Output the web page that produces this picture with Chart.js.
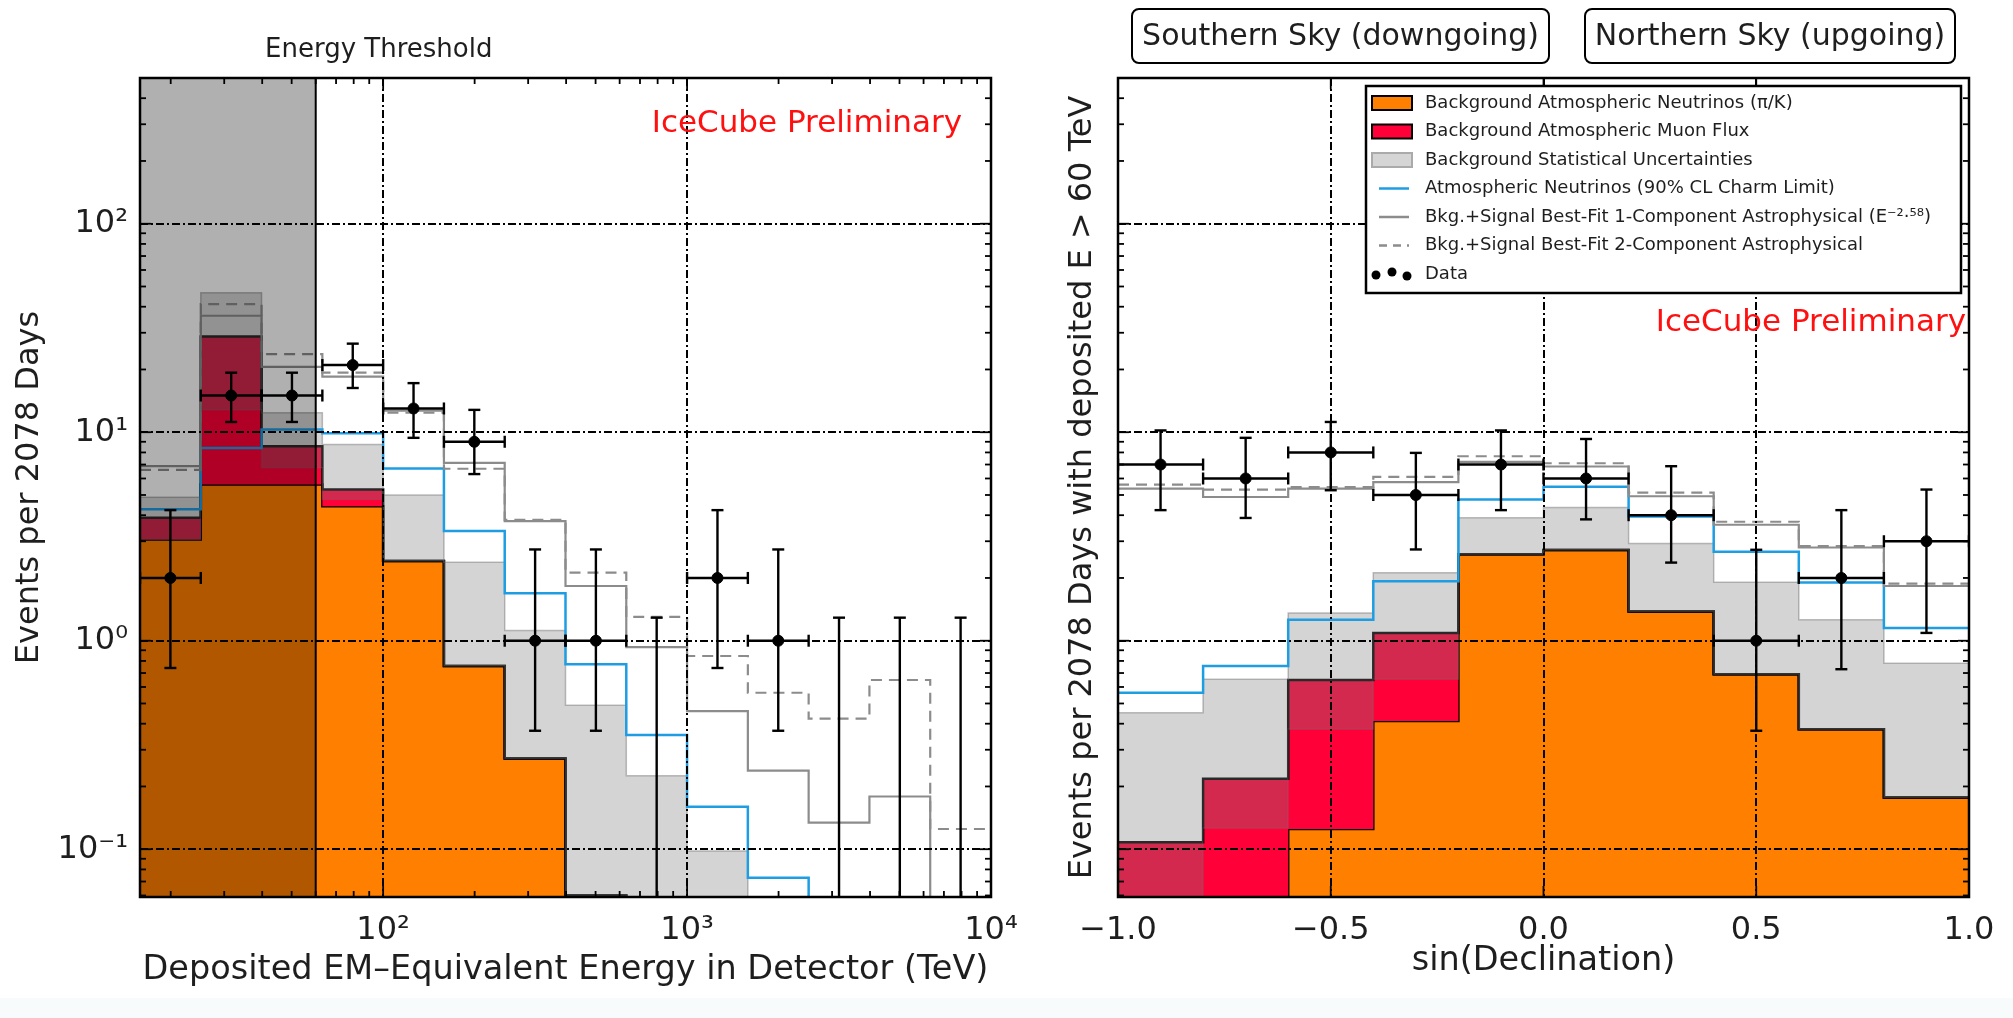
<!DOCTYPE html>
<html>
<head>
<meta charset="utf-8">
<title>IceCube energy and declination distributions</title>
<script src="https://cdn.jsdelivr.net/npm/chart.js@4.4.1/dist/chart.umd.min.js"></script>
<style>
  html, body { margin: 0; padding: 0; background: #fff; }
  #page { position: relative; width: 2013px; height: 1018px; overflow: hidden; background: #fff; }
  #strip { position: absolute; left: 0; top: 998px; width: 2013px; height: 20px; background: #f7fbfc; }
  canvas { position: absolute; top: 0; }
  #energyChart { left: 0; }
  #declChart { left: 1000px; }
</style>
</head>
<body>
<div id="page">
  <div id="strip"></div>
  <canvas id="energyChart" width="1040" height="1018"></canvas>
  <canvas id="declChart" width="1013" height="1018"></canvas>
</div>
<script>
// ---- left panel: bins in log10(E / TeV) ----
// 0.01 means "below the plotted range"
var energyEdgesLog = [1.2, 1.4, 1.6, 1.8, 2.0, 2.2, 2.4, 2.6, 2.8, 3.0, 3.2, 3.4, 3.6, 3.8, 4.0];
var energyThreshold = 60;
var eConv     = [3.06, 5.61, 5.61, 4.42, 2.41, 0.757, 0.272, 0.06, 0.01, 0.01, 0.01, 0.01, 0.01, 0.01];
var eBkgTotal = [3.89, 28.8, 8.57, 5.31, 2.41, 0.757, 0.272, 0.06, 0.01, 0.01, 0.01, 0.01, 0.01, 0.01];
var eBandLo   = [3.06, 12.8, 6.75, 4.76, 2.41, 0.757, 0.272, 0.06, 0.01, 0.01, 0.01, 0.01, 0.01, 0.01];
var eBandHi   = [4.88, 46.6, 12.4, 8.73, 5.0, 2.38, 1.12, 0.491, 0.225, 0.098, 0.01, 0.01, 0.01, 0.01];
var eCharm    = [4.27, 8.41, 10.3, 9.9, 6.7, 3.36, 1.69, 0.771, 0.353, 0.16, 0.073, 0.01, 0.01, 0.01];
var eFit1     = [6.87, 36.2, 20.6, 18.5, 12.7, 7.13, 3.75, 1.83, 0.932, 0.46, 0.238, 0.134, 0.179, 0.03];
var eFit2     = [6.6, 41.2, 23.7, 19.3, 12.4, 6.68, 3.8, 2.12, 1.30, 0.845, 0.563, 0.423, 0.648, 0.125];
var eData     = [2, 15, 15, 21, 13, 9, 1, 1, 0, 2, 1, 0, 0, 0];
var eDataLo   = [0.74, 11.2, 11.2, 16.3, 9.4, 6.3, 0.37, 0.37, 0, 0.74, 0.37, 0, 0, 0];
var eDataHi   = [4.23, 19.3, 19.3, 26.6, 17.2, 12.8, 2.74, 2.74, 1.29, 4.23, 2.74, 1.29, 1.29, 1.29];

// ---- right panel: bins in sin(declination) ----
var declEdges = [-1.0, -0.8, -0.6, -0.4, -0.2, 0.0, 0.2, 0.4, 0.6, 0.8, 1.0];
var dConv     = [0.01, 0.01, 0.125, 0.412, 2.6, 2.72, 1.38, 0.69, 0.376, 0.177];
var dBkgTotal = [0.108, 0.218, 0.648, 1.09, 2.6, 2.72, 1.38, 0.69, 0.376, 0.177];
var dBandLo   = [0.01, 0.126, 0.376, 0.653, 2.6, 2.72, 1.38, 0.69, 0.376, 0.177];
var dBandHi   = [0.452, 0.653, 1.36, 2.12, 3.89, 4.35, 2.93, 1.91, 1.26, 0.78];
var dCharm    = [0.563, 0.757, 1.26, 1.93, 4.76, 5.47, 3.94, 2.67, 1.90, 1.15];
var dFit1     = [5.36, 4.89, 5.36, 5.76, 7.21, 6.85, 4.93, 3.6, 2.80, 1.83];
var dFit2     = [5.61, 5.31, 5.45, 6.11, 7.67, 7.1, 5.13, 3.72, 2.84, 1.88];
var dData     = [7, 6, 8, 5, 7, 6, 4, 1, 2, 3];
var dDataLo   = [4.23, 3.88, 5.27, 2.74, 4.23, 3.82, 2.37, 0.37, 0.73, 1.09];
var dDataHi   = [10.2, 9.4, 11.2, 7.96, 10.2, 9.28, 6.87, 2.73, 4.23, 5.31];

// ---- axes and labels ----
var countMin = 0.059, countMax = 500;
var countTickVals = [0.1, 1, 10, 100];
var countTickText = ['10\u207B\u00B9', '10\u2070', '10\u00B9', '10\u00B2'];
var energyTickVals = [100, 1000, 10000];
var energyTickText = ['10\u00B2', '10\u00B3', '10\u2074'];
var declTickVals = [-1, -0.5, 0, 0.5, 1];
var declTickText = ['\u22121.0', '\u22120.5', '0.0', '0.5', '1.0'];
var legendLabels = [
  'Background Atmospheric Neutrinos (\u03C0/K)',
  'Background Atmospheric Muon Flux',
  'Background Statistical Uncertainties',
  'Atmospheric Neutrinos (90% CL Charm Limit)',
  'Bkg.+Signal Best-Fit 1-Component Astrophysical (E\u207B\u00B2\u00B7\u2075\u2078)',
  'Bkg.+Signal Best-Fit 2-Component Astrophysical',
  'Data'
];
var skyLabels = ['Southern Sky (downgoing)', 'Northern Sky (upgoing)'];

var FONT = "'DejaVu Sans', sans-serif";
var TEXT = '#1e1e1e';
var ORANGE = '#ff7f00', RED = '#ff0038', BAND = 'rgba(123,123,123,0.33)', BLUE = '#1f9de2', FIT = '#8c8c8c';

function pow10(l) { return Math.pow(10, l); }
var energyEdges = energyEdgesLog.map(pow10);
var energyCenters = energyEdgesLog.slice(1).map(function (l, i) { return pow10((l + energyEdgesLog[i]) / 2); });
var declCenters = declEdges.slice(1).map(function (e, i) { return (e + declEdges[i]) / 2; });

function stepPoints(edges, vals) {
  var pts = vals.map(function (v, i) { return {x: edges[i], y: v}; });
  pts.push({x: edges[edges.length - 1], y: vals[vals.length - 1]});
  return pts;
}

function histDatasets(edges, conv, total, lo, hi, charm, fit1, fit2, centers, counts) {
  function step(vals, extra) {
    var ds = {data: stepPoints(edges, vals), showLine: true, stepped: 'before', pointRadius: 0,
              pointHoverRadius: 0, fill: false, borderJoinStyle: 'miter'};
    for (var k in extra) ds[k] = extra[k];
    return ds;
  }
  return [
    step(conv,  {label: 'conv',   borderColor: '#000', borderWidth: 2.5, backgroundColor: ORANGE, fill: 'start', order: 7}),
    step(total, {label: 'muon',   borderColor: '#000', borderWidth: 2.5, backgroundColor: RED, fill: 0, order: 6}),
    step(lo,    {label: 'bandLo', borderColor: 'rgba(110,110,110,0.3)', borderWidth: 1.5, order: 5}),
    step(hi,    {label: 'bandHi', borderColor: 'rgba(110,110,110,0.45)', borderWidth: 1.5, backgroundColor: BAND, fill: 2, order: 4}),
    step(charm, {label: 'charm',  borderColor: BLUE, borderWidth: 2.5, order: 3}),
    step(fit1,  {label: 'fit1',   borderColor: FIT, borderWidth: 2.2, order: 2}),
    step(fit2,  {label: 'fit2',   borderColor: FIT, borderWidth: 2.2, borderDash: [11, 7], order: 1}),
    {label: 'data', order: 0, showLine: false, pointRadius: 5.5, pointBackgroundColor: '#000', pointBorderColor: '#000',
     data: centers.map(function (c, i) { return {x: c, y: counts[i] > 0 ? counts[i] : null}; })}
  ];
}

function logMinor(min, max) {
  var out = [];
  for (var e = Math.floor(Math.log10(min)); e <= Math.ceil(Math.log10(max)); e++) {
    for (var m = 2; m <= 9; m++) {
      var v = m * Math.pow(10, e);
      if (v > min && v < max) out.push(v);
    }
  }
  return out;
}

function countAxis(showLabels, title, titlePad, width) {
  return {
    type: 'logarithmic', position: 'left', min: countMin, max: countMax, bounds: 'data',
    grid: {display: false}, border: {display: false},
    afterBuildTicks: function (s) { s.ticks = countTickVals.map(function (v) { return {value: v}; }); },
    ticks: {display: showLabels, autoSkip: false, padding: 4, color: TEXT, font: {family: FONT, size: 32},
            callback: function (v, i) { return countTickText[i]; }},
    title: {display: true, text: title, color: TEXT, font: {family: FONT, size: 32}, padding: {top: titlePad, bottom: 0}},
    afterFit: function (s) { s.width = width; }
  };
}

function roundRect(ctx, x, y, w, h, r) {
  ctx.beginPath();
  ctx.moveTo(x + r, y);
  ctx.arcTo(x + w, y, x + w, y + h, r);
  ctx.arcTo(x + w, y + h, x, y + h, r);
  ctx.arcTo(x, y + h, x, y, r);
  ctx.arcTo(x, y, x + w, y, r);
  ctx.closePath();
}

function framePlugin(cfg) {
  return {
    id: 'frame',
    afterDatasetsDraw: function (chart) {
      var ctx = chart.ctx, a = chart.chartArea, xs = chart.scales.x, ys = chart.scales.y;
      function seg(x1, y1, x2, y2) { ctx.beginPath(); ctx.moveTo(x1, y1); ctx.lineTo(x2, y2); ctx.stroke(); }
      ctx.save();
      ctx.beginPath();
      ctx.rect(a.left, a.top, a.right - a.left, a.bottom - a.top);
      ctx.clip();
      ctx.strokeStyle = '#000';
      if (cfg.threshold) {
        var tx = xs.getPixelForValue(cfg.threshold);
        ctx.fillStyle = 'rgba(0,0,0,0.31)';
        ctx.fillRect(a.left, a.top, tx - a.left, a.bottom - a.top);
        ctx.lineWidth = 2;
        seg(tx, a.top, tx, a.bottom);
      }
      // dash-dot grid on top of the histograms
      ctx.lineWidth = 2;
      ctx.setLineDash([8, 3, 2, 3]);
      cfg.gridX.forEach(function (v) { var p = Math.round(xs.getPixelForValue(v)); seg(p, a.top, p, a.bottom); });
      countTickVals.forEach(function (v) { var p = Math.round(ys.getPixelForValue(v)); seg(a.left, p, a.right, p); });
      ctx.setLineDash([]);
      // data error bars
      ctx.lineWidth = 2.4;
      cfg.counts.forEach(function (n, i) {
        var xc = xs.getPixelForValue(cfg.centers[i]);
        var yHi = ys.getPixelForValue(cfg.hi[i]);
        var yLo = n > 0 ? ys.getPixelForValue(cfg.lo[i]) : a.bottom + 5;
        seg(xc, yLo, xc, yHi);
        seg(xc - 6, yHi, xc + 6, yHi);
        if (n > 0) {
          seg(xc - 6, yLo, xc + 6, yLo);
          var y = ys.getPixelForValue(n);
          var xl = xs.getPixelForValue(cfg.edges[i]), xr = xs.getPixelForValue(cfg.edges[i + 1]);
          seg(xl, y, xr, y);
          seg(xl, y - 6, xl, y + 6);
          seg(xr, y - 6, xr, y + 6);
        }
      });
      ctx.restore();

      // frame with inward ticks
      ctx.save();
      ctx.strokeStyle = '#000';
      ctx.lineWidth = 1.8;
      countTickVals.forEach(function (v) {
        var p = ys.getPixelForValue(v);
        seg(a.left, p, a.left + 11, p); seg(a.right, p, a.right - 11, p);
      });
      logMinor(countMin, countMax).forEach(function (v) {
        var p = ys.getPixelForValue(v);
        seg(a.left, p, a.left + 6, p); seg(a.right, p, a.right - 6, p);
      });
      cfg.xMajor.forEach(function (v) {
        var p = xs.getPixelForValue(v);
        seg(p, a.bottom, p, a.bottom - 11); seg(p, a.top, p, a.top + 11);
      });
      cfg.xMinor.forEach(function (v) {
        var p = xs.getPixelForValue(v);
        seg(p, a.bottom, p, a.bottom - 6); seg(p, a.top, p, a.top + 6);
      });
      ctx.lineWidth = 2.5;
      ctx.strokeRect(a.left, a.top, a.right - a.left, a.bottom - a.top);
      ctx.restore();

      ctx.save();
      cfg.decorate(ctx, a, xs, ys);
      ctx.restore();
    }
  };
}

Chart.defaults.font.family = FONT;

// ---------------- left: energy ----------------
new Chart(document.getElementById('energyChart').getContext('2d'), {
  type: 'scatter',
  data: {datasets: histDatasets(energyEdges, eConv, eBkgTotal, eBandLo, eBandHi, eCharm, eFit1, eFit2, energyCenters, eData)},
  options: {
    responsive: false, animation: false, devicePixelRatio: 1, events: [],
    layout: {padding: {top: 78, right: 49, bottom: 0, left: 0}},
    plugins: {legend: {display: false}, tooltip: {enabled: false}},
    scales: {
      x: {
        type: 'logarithmic', min: energyEdges[0], max: energyEdges[energyEdges.length - 1], bounds: 'data',
        grid: {display: false}, border: {display: false},
        afterBuildTicks: function (s) { s.ticks = energyTickVals.map(function (v) { return {value: v}; }); },
        ticks: {autoSkip: false, maxRotation: 0, padding: 6, color: TEXT, font: {family: FONT, size: 32},
                callback: function (v, i) { return energyTickText[i]; }},
        title: {display: true, text: 'Deposited EM\u2013Equivalent Energy in Detector (TeV)', color: TEXT,
                font: {family: FONT, size: 33.5}, padding: {top: 0, bottom: 28}},
        afterFit: function (s) { s.height = 121; }
      },
      y: countAxis(true, 'Events per 2078 Days', 10, 140)
    }
  },
  plugins: [framePlugin({
    threshold: energyThreshold, gridX: [100, 1000], xMajor: energyTickVals,
    xMinor: logMinor(energyEdges[0], energyEdges[energyEdges.length - 1]),
    counts: eData, lo: eDataLo, hi: eDataHi, centers: energyCenters, edges: energyEdges,
    decorate: function (ctx, a, xs, ys) {
      ctx.fillStyle = TEXT;
      ctx.font = '26px ' + FONT;
      ctx.textAlign = 'center';
      ctx.textBaseline = 'alphabetic';
      ctx.fillText('Energy Threshold', xs.getPixelForValue(energyThreshold) + 63, 57);
      ctx.fillStyle = '#ff1010';
      ctx.font = '31px ' + FONT;
      ctx.textAlign = 'right';
      ctx.fillText('IceCube Preliminary', a.right - 29, 132);
    }
  })]
});

// ---------------- right: declination ----------------
new Chart(document.getElementById('declChart').getContext('2d'), {
  type: 'scatter',
  data: {datasets: histDatasets(declEdges, dConv, dBkgTotal, dBandLo, dBandHi, dCharm, dFit1, dFit2, declCenters, dData)},
  options: {
    responsive: false, animation: false, devicePixelRatio: 1, events: [],
    layout: {padding: {top: 78, right: 44, bottom: 0, left: 0}},
    plugins: {legend: {display: false}, tooltip: {enabled: false}},
    scales: {
      x: {
        type: 'linear', min: -1, max: 1, bounds: 'data',
        grid: {display: false}, border: {display: false},
        afterBuildTicks: function (s) { s.ticks = declTickVals.map(function (v) { return {value: v}; }); },
        ticks: {autoSkip: false, maxRotation: 0, padding: 6, color: TEXT, font: {family: FONT, size: 32},
                callback: function (v, i) { return declTickText[i]; }},
        title: {display: true, text: 'sin(Declination)', color: TEXT, font: {family: FONT, size: 33.5},
                padding: {top: 0, bottom: 37}},
        afterFit: function (s) { s.height = 121; }
      },
      y: countAxis(false, 'Events per 2078 Days with deposited E > 60 TeV', 63, 118)
    }
  },
  plugins: [framePlugin({
    threshold: null, gridX: [-0.5, 0, 0.5], xMajor: declTickVals, xMinor: [],
    counts: dData, lo: dDataLo, hi: dDataHi, centers: declCenters, edges: declEdges,
    decorate: function (ctx, a, xs, ys) {
      // legend
      var bx = a.right - 603, by = a.top + 8, bw = 595, bh = 207;
      ctx.fillStyle = '#fff';
      ctx.fillRect(bx, by, bw, bh);
      ctx.strokeStyle = '#000';
      ctx.lineWidth = 2.5;
      ctx.strokeRect(bx, by, bw, bh);
      legendLabels.forEach(function (txt, i) {
        var cy = by + 17 + i * 28.5;
        ctx.save();
        if (i < 3) {
          ctx.fillStyle = [ORANGE, RED, '#d5d5d5'][i];
          ctx.fillRect(bx + 6, cy - 7, 40, 14);
          ctx.strokeStyle = i < 2 ? '#000' : '#aaa';
          ctx.lineWidth = 2;
          ctx.strokeRect(bx + 6, cy - 7, 40, 14);
        } else if (i < 6) {
          ctx.strokeStyle = [BLUE, FIT, FIT][i - 3];
          ctx.lineWidth = 2.5;
          if (i === 5) ctx.setLineDash([8, 6]);
          ctx.beginPath(); ctx.moveTo(bx + 13, cy); ctx.lineTo(bx + 43, cy); ctx.stroke();
        } else {
          ctx.fillStyle = '#000';
          [[10, 1], [26, -2], [41, 2]].forEach(function (d) {
            ctx.beginPath(); ctx.arc(bx + d[0], cy + d[1], 4.5, 0, Math.PI * 2); ctx.fill();
          });
        }
        ctx.restore();
        ctx.fillStyle = TEXT;
        ctx.font = '18px ' + FONT;
        ctx.textAlign = 'left';
        ctx.textBaseline = 'middle';
        ctx.fillText(txt, bx + 59, cy);
      });
      // sky labels
      [[a.left + 14, a.left + 431], [a.left + 467, a.left + 837]].forEach(function (b, i) {
        roundRect(ctx, b[0], 9, b[1] - b[0], 54, 7);
        ctx.fillStyle = '#fff';
        ctx.fill();
        ctx.lineWidth = 2;
        ctx.strokeStyle = '#000';
        ctx.stroke();
        ctx.fillStyle = TEXT;
        ctx.font = '30px ' + FONT;
        ctx.textAlign = 'center';
        ctx.textBaseline = 'middle';
        ctx.fillText(skyLabels[i], (b[0] + b[1]) / 2, 37);
      });
      ctx.fillStyle = '#ff1010';
      ctx.font = '31px ' + FONT;
      ctx.textAlign = 'right';
      ctx.textBaseline = 'alphabetic';
      ctx.fillText('IceCube Preliminary', a.right - 3, 331);
    }
  })]
});
</script>
</body>
</html>
